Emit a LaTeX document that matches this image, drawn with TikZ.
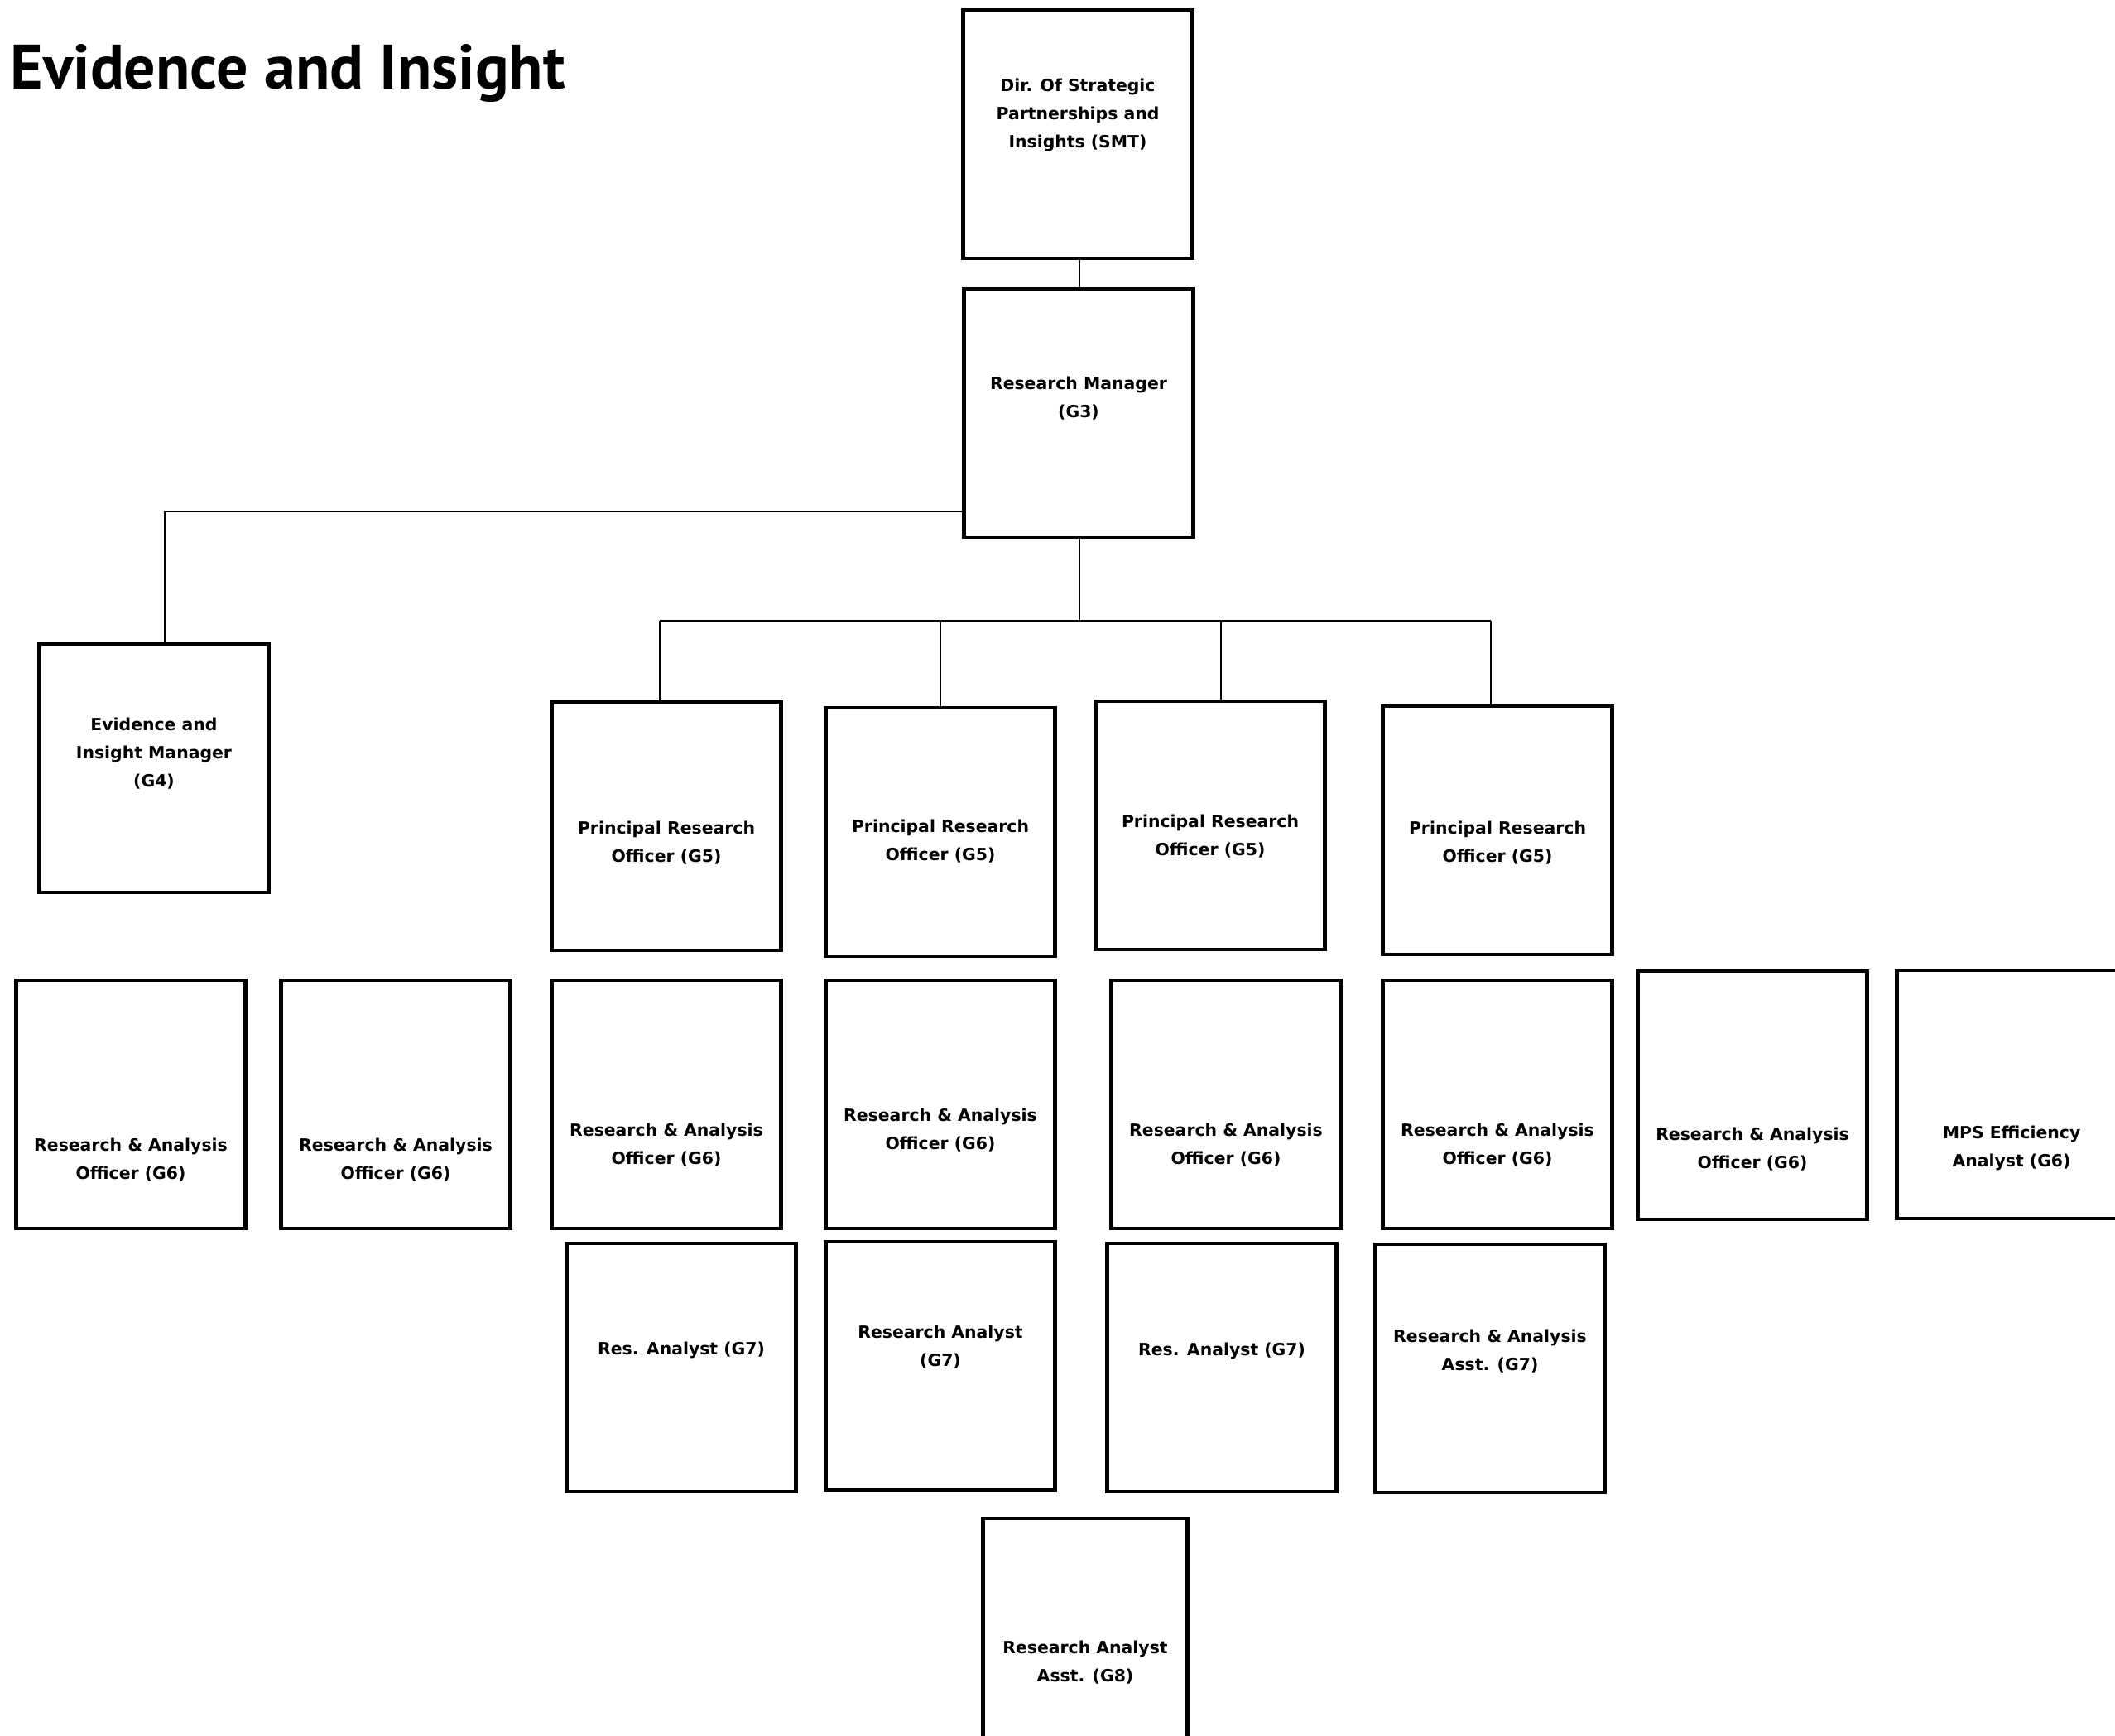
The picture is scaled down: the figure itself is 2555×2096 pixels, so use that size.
\documentclass[tikz,border=0pt]{standalone}
\usepackage{fontspec}
\setmainfont{DejaVu Sans}
\newfontfamily\titlefont{PT Sans}
\tikzset{
        post/.style={draw, line width=1.3pt, minimum width=2.77cm, minimum height=3.0cm, inner sep=0pt}, % one box per post
        narrow post/.style={post, minimum width=2.47cm},
        link/.style={line width=0.45pt}, % reporting lines
        every label/.style={align=center, inner sep=0pt, font=\fontsize{5.8}{9.6}\selectfont\bfseries},
}

\begin{document}
\begin{tikzpicture}[x=0.01cm, y=-0.01cm]
     \fill[white] (0,0) rectangle (2555,2096);
     \useasboundingbox (0,0) rectangle (2555,2096);

     \node[anchor=base west, inner sep=0pt, font=\titlefont\fontsize{21.6}{25}\selectfont\bfseries] (title) at (12,107) {Evidence and Insight};

     % top of the tree
     \node[post, label={[yshift=0.23cm]center:{Dir. Of Strategic\\Partnerships and\\Insights (SMT)}}] (dir) at (1302,162) {};
     \node[post, label={[yshift=0.18cm]center:{Research Manager\\(G3)}}] (rm) at (1303,499) {};
     \node[post, label={[yshift=0.18cm]center:{Evidence and\\Insight Manager\\(G4)}}] (eim) at (186,928) {};

     % principal officers
     \node[post, label={[yshift=-0.20cm]center:{Principal Research\\Officer (G5)}}] (pro1) at (805,998) {};
     \node[post, label={[yshift=-0.11cm]center:{Principal Research\\Officer (G5)}}] (pro2) at (1136,1005) {};
     \node[post, label={[yshift=-0.13cm]center:{Principal Research\\Officer (G5)}}] (pro3) at (1462,997) {};
     \node[post, label={[yshift=-0.15cm]center:{Principal Research\\Officer (G5)}}] (pro4) at (1809,1003) {};

     % G6 row
     \node[post, label={[yshift=-0.67cm]center:{Research \& Analysis\\Officer (G6)}}] (rao1) at (158,1334) {};
     \node[post, label={[yshift=-0.67cm]center:{Research \& Analysis\\Officer (G6)}}] (rao2) at (478,1334) {};
     \node[post, label={[yshift=-0.49cm]center:{Research \& Analysis\\Officer (G6)}}] (rao3) at (805,1334) {};
     \node[post, label={[yshift=-0.31cm]center:{Research \& Analysis\\Officer (G6)}}] (rao4) at (1136,1334) {};
     \node[post, label={[yshift=-0.49cm]center:{Research \& Analysis\\Officer (G6)}}] (rao5) at (1481,1334) {};
     \node[post, label={[yshift=-0.49cm]center:{Research \& Analysis\\Officer (G6)}}] (rao6) at (1809,1334) {};
     \node[post, label={[yshift=-0.65cm]center:{Research \& Analysis\\Officer (G6)}}] (rao7) at (2117,1323) {};
     \node[post, label={[yshift=-0.65cm]center:{MPS Efficiency\\Analyst (G6)}}] (mps) at (2430,1322) {};

     % G7 row
     \node[post, label={[yshift=0.21cm]center:{Res. Analyst (G7)}}] (ra1) at (823,1652) {};
     \node[post, label={[yshift=0.23cm]center:{Research Analyst\\(G7)}}] (ra2) at (1136,1650) {};
     \node[post, label={[yshift=0.20cm]center:{Res. Analyst (G7)}}] (ra3) at (1476,1652) {};
     \node[post, label={[yshift=0.21cm]center:{Research \& Analysis\\Asst. (G7)}}] (raa) at (1800,1653) {};

     % G8
     \node[narrow post, label={[yshift=-0.24cm]center:{Research Analyst\\Asst. (G8)}}] (ras) at (1311,1984) {};

     % reporting lines
     \draw[link] (dir.south -| 1304,0) -- (1304,0 |- rm.north);
     \coordinate (eimtap) at (199,618);
     \draw[link] (rm.west |- eimtap) -- (eimtap) -- (eimtap |- eim.north);
     \coordinate (bus) at (1304,750);
     \draw[link] (rm.south -| bus) -- (bus);
     \draw[link] (797,750) -- (1801,750);
     \foreach \p/\x in {pro1/797, pro2/1136, pro3/1475, pro4/1801} {
        \coordinate (drop\p) at (\x,750);
        \draw[link] (drop\p) -- (drop\p |- \p.north);
     }
\end{tikzpicture}
\end{document}
